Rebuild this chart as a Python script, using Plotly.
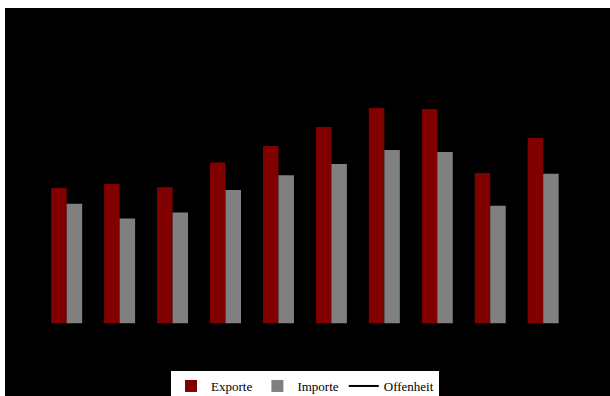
import plotly.graph_objects as go

# Jahre (Kategorien) und Anteile in % des BIP
jahre = ["2001", "2002", "2003", "2004", "2005", "2006", "2007", "2008", "2009", "2010"]
exporte = [33.8, 34.8, 34.0, 40.2, 44.3, 49.1, 53.8, 53.6, 37.6, 46.3]
importe = [29.9, 26.2, 27.7, 33.3, 37.0, 39.8, 43.3, 42.8, 29.4, 37.4]
offenheit = [None] * len(jahre)

fig = go.Figure()
fig.add_trace(go.Bar(x=jahre, y=exporte, name="Exporte",
                     marker=dict(color="#800000", line=dict(width=0))))
fig.add_trace(go.Bar(x=jahre, y=importe, name="Importe",
                     marker=dict(color="#808080", line=dict(width=0))))
fig.add_trace(go.Scatter(x=jahre, y=offenheit, name="Offenheit", mode="lines",
                         line=dict(color="#000000", width=2)))

fig.update_layout(
    width=610, height=396,
    margin=dict(l=5, r=0, t=8, b=0, autoexpand=False),
    paper_bgcolor="#ffffff",
    plot_bgcolor="#000000",
    barmode="group",
    bargap=0.415,
    bargroupgap=0,
    showlegend=True,
    legend=dict(
        orientation="h",
        xref="container", yref="container",
        x=0.5, xanchor="center",
        y=0.0631, yanchor="top",
        bgcolor="#ffffff",
        font=dict(family="Liberation Serif", size=13, color="#000000"),
        itemwidth=30,
        tracegroupgap=0,
    ),
    xaxis=dict(range=[-1.165, 10.262], showticklabels=False, showgrid=False,
               zeroline=False, showline=False, ticks=""),
    yaxis=dict(range=[-18.175, 78.825], showticklabels=False, showgrid=False,
               zeroline=False, showline=False, ticks=""),
)

fig.write_html("out.html")
